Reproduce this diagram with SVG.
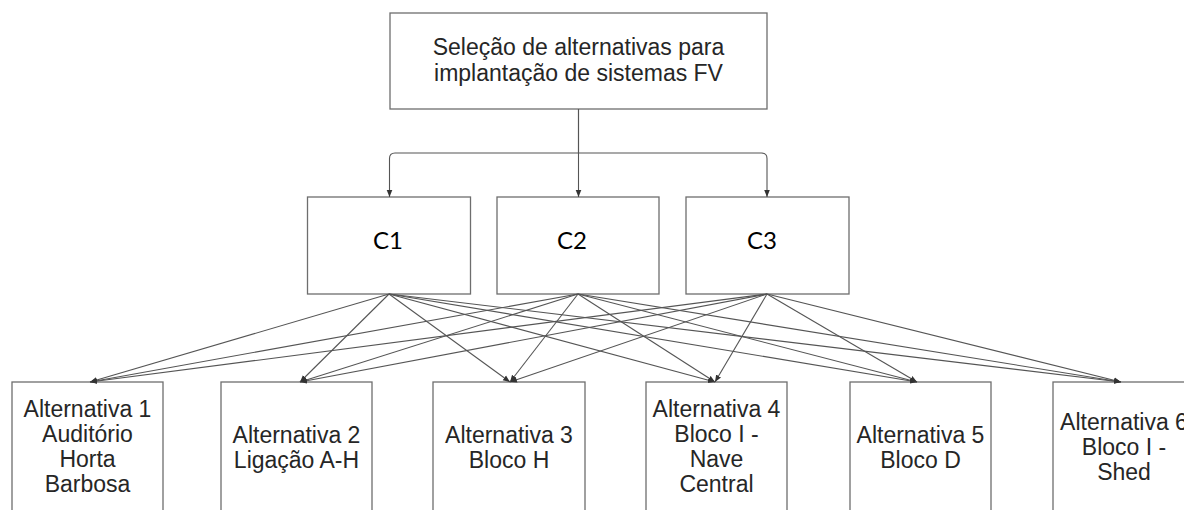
<svg xmlns="http://www.w3.org/2000/svg" width="1184" height="510" viewBox="0 0 1184 510">
<style>
.box{fill:#fff;stroke:#6e6e6e;stroke-width:1.3}
.t{font-family:"Liberation Sans",Arial,sans-serif;font-size:23px;fill:#262626;text-anchor:middle}
.c{font-family:Lato,"Open Sans",sans-serif;font-size:24px;fill:#000;text-anchor:middle}
.ln{fill:none;stroke:#555;stroke-width:1.1;marker-end:url(#arr)}
</style>
<defs>
<marker id="arr" viewBox="0 0 10 10" refX="10" refY="5" markerWidth="7" markerHeight="7" orient="auto" markerUnits="userSpaceOnUse">
<path d="M0,1 L10,5 L0,9 z" fill="#333"/>
</marker>
</defs>
<rect width="1184" height="510" fill="#fff"/>
<g id="root">
<rect class="box" x="390" y="13" width="377" height="96"/>
<text class="t" x="578.5" y="55">Seleção de alternativas para</text>
<text class="t" x="578.5" y="81">implantação de sistemas FV</text>
</g>
<g id="c1"><rect class="box" x="307.5" y="197" width="163" height="97"/><text class="c" x="388" y="248.5">C1</text></g>
<g id="c2"><rect class="box" x="497" y="197" width="162" height="97"/><text class="c" x="572" y="248.5">C2</text></g>
<g id="c3"><rect class="box" x="686" y="197" width="163" height="97"/><text class="c" x="762" y="248.5">C3</text></g>
<g id="alt1"><rect class="box" x="12" y="382" width="151" height="140"/>
<text class="t" x="87.5" y="417">Alternativa 1</text><text class="t" x="87.5" y="442">Auditório</text><text class="t" x="87.5" y="467">Horta</text><text class="t" x="87.5" y="492">Barbosa</text></g>
<g id="alt2"><rect class="box" x="221" y="382" width="151" height="140"/>
<text class="t" x="296.5" y="443">Alternativa 2</text><text class="t" x="296.5" y="468">Ligação A-H</text></g>
<g id="alt3"><rect class="box" x="433" y="382" width="152" height="140"/>
<text class="t" x="509" y="443">Alternativa 3</text><text class="t" x="509" y="468">Bloco H</text></g>
<g id="alt4"><rect class="box" x="646" y="382" width="141" height="140"/>
<text class="t" x="716.5" y="417">Alternativa 4</text><text class="t" x="716.5" y="442">Bloco I -</text><text class="t" x="716.5" y="467">Nave</text><text class="t" x="716.5" y="492">Central</text></g>
<g id="alt5"><rect class="box" x="850" y="382" width="141" height="140"/>
<text class="t" x="920.5" y="443">Alternativa 5</text><text class="t" x="920.5" y="468">Bloco D</text></g>
<g id="alt6"><rect class="box" x="1053" y="382" width="142" height="140"/>
<text class="t" x="1124" y="430">Alternativa 6</text><text class="t" x="1124" y="455">Bloco I -</text><text class="t" x="1124" y="480">Shed</text></g>
<g id="connectors">
<path class="ln" d="M578.5,109 V153 H395 Q389.5,153 389.5,158.5 V197"/>
<path class="ln" d="M578.5,109 V197"/>
<path class="ln" d="M578.5,153 H761.5 Q767,153 767,158.5 V197"/>
<path class="ln" d="M389,294 L90,382"/>
<path class="ln" d="M389,294 L300,382"/>
<path class="ln" d="M389,294 L510,382"/>
<path class="ln" d="M389,294 L715,382"/>
<path class="ln" d="M389,294 L917,382"/>
<path class="ln" d="M389,294 L1121,382"/>
<path class="ln" d="M578,294 L90,382"/>
<path class="ln" d="M578,294 L300,382"/>
<path class="ln" d="M578,294 L510,382"/>
<path class="ln" d="M578,294 L715,382"/>
<path class="ln" d="M578,294 L917,382"/>
<path class="ln" d="M578,294 L1121,382"/>
<path class="ln" d="M767,294 L90,382"/>
<path class="ln" d="M767,294 L300,382"/>
<path class="ln" d="M767,294 L510,382"/>
<path class="ln" d="M767,294 L715,382"/>
<path class="ln" d="M767,294 L917,382"/>
<path class="ln" d="M767,294 L1121,382"/>
</g>
</svg>
